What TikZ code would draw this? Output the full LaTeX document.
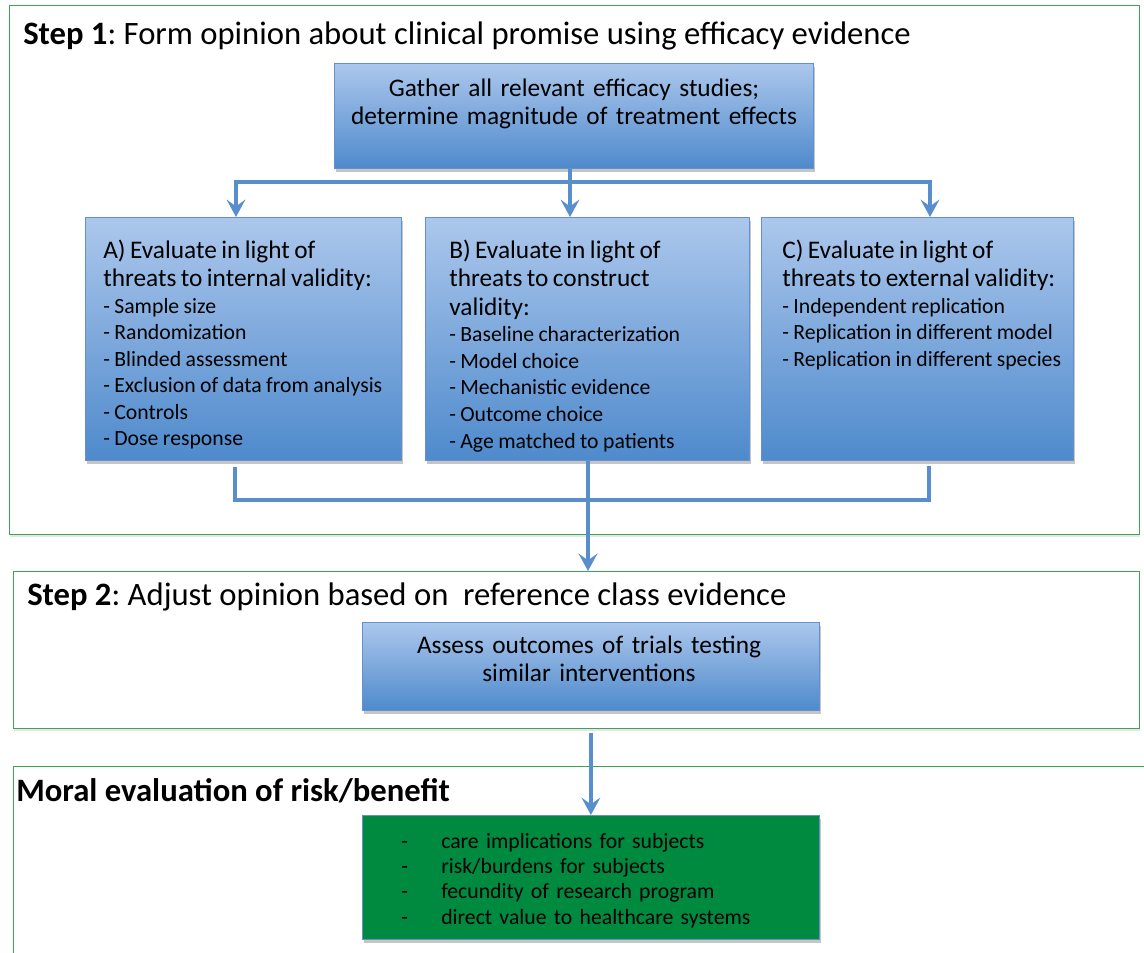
\documentclass[tikz,border=0pt]{standalone}
\usepackage{fontspec}
\setmainfont{Carlito}
\usetikzlibrary{arrows.meta,shadows}
\frenchspacing

\definecolor{boxtop}{RGB}{172,199,236}
\definecolor{boxbot}{RGB}{78,138,204}
\definecolor{boxline}{RGB}{100,145,205}
\definecolor{flowblue}{RGB}{88,142,204}
\definecolor{framegreen}{RGB}{58,165,82}
\definecolor{moralgreen}{RGB}{0,138,64}

\newcommand{\titlefont}{\fontsize{24.5}{29}\selectfont}
\newcommand{\headfont}{\fontsize{19}{21.5}\selectfont}
\newcommand{\itemfont}{\fontsize{16.3}{19.9}\selectfont}

\tikzset{
  stepframe/.style={draw=framegreen, line width=0.9pt, fill=white, anchor=north west,
    inner sep=0pt, drop shadow={shadow xshift=0pt, shadow yshift=-2pt, opacity=0.2}},
  bluebox/.style={draw=boxline, line width=0.6pt, top color=boxtop, bottom color=boxbot,
    anchor=north west, inner sep=0pt, drop shadow={shadow xshift=1.5pt, shadow yshift=-2.5pt, opacity=0.45}},
  greenbox/.style={bluebox, fill=moralgreen, top color=moralgreen, bottom color=moralgreen},
  steptitle/.style={anchor=base west, inner sep=0pt, font=\titlefont},
  boxtext/.style={anchor=base west, inner sep=0pt, align=left},
  flow/.style={draw=flowblue, line width=3pt},
  flowarrow/.style={flow, -{Stealth[length=13pt, width=14pt, inset=5pt]}}
}

\begin{document}
\begin{tikzpicture}[x=0.75pt, y=-0.75pt]
\useasboundingbox (0,0) rectangle (1144,952);

% frames of the three steps
\node[stepframe, minimum width=847.5pt, minimum height=396.75pt] (frameA) at (9,5) {};
\node[stepframe, minimum width=844.5pt, minimum height=117.75pt] (frameB) at (13,571) {};
\node[stepframe, minimum width=852.75pt, minimum height=145.5pt] (frameC) at (13,766) {};

\node[steptitle] (titleA) at (23,45) {\textbf{Step 1}: Form opinion about clinical promise using efficacy evidence};
\node[steptitle] (titleB) at (27,605) {\textbf{Step 2}: Adjust opinion based on \ reference class evidence};
\node[steptitle] (titleC) at (16,801) {\textbf{Moral evaluation of risk/benefit}};

% step 1
\node[bluebox, minimum width=359.25pt, minimum height=78.75pt] (gather) at (334,63) {};
\node[boxtext, anchor=base, align=center, text width=352pt, font=\fontsize{19}{21.2}\selectfont] (gathertxt) at (574,96.7)
  {Gather all relevant efficacy studies;\\determine magnitude of treatment effects};

\node[bluebox, minimum width=237pt, minimum height=182.25pt] (boxA) at (85,217) {};
\node[bluebox, minimum width=243pt, minimum height=182.25pt] (boxB) at (425,217) {};
\node[bluebox, minimum width=234pt, minimum height=182.25pt] (boxC) at (761,217) {};

\node[boxtext, text width=228pt] (textA) at (103,258) {%
  {\headfont A) Evaluate in light of\\threats to internal validity:\par}
  {\itemfont - Sample size\\- Randomization\\- Blinded assessment\\- Exclusion of data from analysis\\- Controls\\- Dose response\par}};
\node[boxtext, text width=232pt] (textB) at (449,258) {%
  {\headfont B) Evaluate in light of\\threats to construct\\validity:\par}
  {\itemfont - Baseline characterization\\- Model choice\\- Mechanistic evidence\\- Outcome choice\\- Age matched to patients\par}};
\node[boxtext, text width=228pt] (textC) at (782,258) {%
  {\headfont C) Evaluate in light of\\threats to external validity:\par}
  {\itemfont - Independent replication\\- Replication in different model\\- Replication in different species\par}};

\coordinate (splitL) at (236,182);
\coordinate (splitM) at (570,182);
\coordinate (splitR) at (930,182);
\coordinate (stubL) at (235,467);
\coordinate (stubR) at (929,466);
\coordinate (joinL) at (235,500);
\coordinate (joinM) at (588,500);
\coordinate (joinR) at (929,500);

\draw[flow] (splitM |- gather.south) -- (splitM);
\draw[flow, line cap=rect] (splitL) -- (splitR);
\draw[flowarrow] (splitL) -- (splitL |- boxA.north);
\draw[flowarrow] (splitM) -- (splitM |- boxB.north);
\draw[flowarrow] (splitR) -- (splitR |- boxC.north);

\draw[flow, line join=miter] (stubL) -- (joinL) -- (joinR) -- (stubR);
\draw[flowarrow] (boxB.south -| joinM) -- (joinM |- frameB.north);

% step 2
\node[bluebox, minimum width=342.75pt, minimum height=66pt] (assess) at (362,622) {};
\node[boxtext, anchor=base, align=center, text width=330pt, font=\fontsize{19}{21.5}\selectfont] (assesstxt) at (589,653)
  {Assess outcomes of trials testing\\similar interventions};

% moral evaluation
\node[greenbox, minimum width=342.75pt, minimum height=93pt] (moral) at (362,815) {};
\node[boxtext, text width=320pt, font=\fontsize{16.3}{19.1}\selectfont] (moraltxt) at (401,848)
  {\makebox[30pt][l]{-}care implications for subjects\\
   \makebox[30pt][l]{-}risk/burdens for subjects\\
   \makebox[30pt][l]{-}fecundity of research program\\
   \makebox[30pt][l]{-}direct value to healthcare systems};

\draw[flowarrow] (moral.north |- frameB.south) ++(0,4) -- (moral.north);
\end{tikzpicture}
\end{document}
